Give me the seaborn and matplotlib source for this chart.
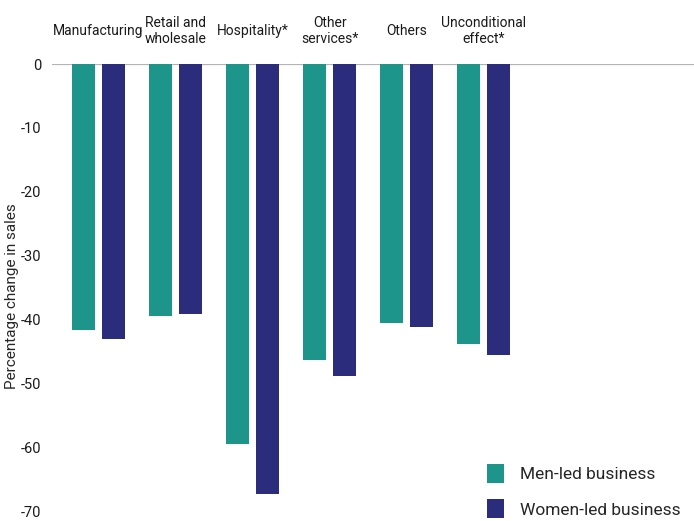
import pandas as pd
import seaborn as sns
import matplotlib.pyplot as plt


categories = ["Manufacturing", "Retail and\nwholesale", "Hospitality*",
              "Other\nservices*", "Others", "Unconditional\neffect*"]
men = [-41.6, -39.4, -59.5, -46.4, -40.5, -43.8]
women = [-43.0, -39.1, -67.3, -48.9, -41.1, -45.6]
groups = ["Men-led business", "Women-led business"]

df = pd.DataFrame({
    "sector": categories * 2,
    "change": men + women,
    "group": [groups[0]] * len(men) + [groups[1]] * len(women),
})

sns.set_style("white")
plt.rcParams["font.family"] = ["Roboto", "DejaVu Sans"]
plt.rcParams["axes.unicode_minus"] = False

fig = plt.figure(figsize=(6.94, 5.21), dpi=100)
ax = fig.add_axes([0.075, 0.019, 0.925, 0.858])

sns.barplot(data=df, x="sector", y="change", hue="group",
            palette=["#1d958a", "#2c2c7c"], width=0.78, gap=0.23,
            saturation=1, linewidth=0, ax=ax)

ax.axhline(0, color="#b4b4b4", lw=1.6, zorder=0)
ax.set_ylim(-70, 0)
ax.set_xlim(-0.604, 7.73)
ax.set_yticks(range(-70, 1, 10))
ax.tick_params(axis="y", length=0, pad=8, labelsize=10.5, labelcolor="#1a1a1a")

ax.xaxis.tick_top()
ax.tick_params(axis="x", length=0, pad=24, labelsize=10, labelcolor="#1a1a1a")
for lab in ax.get_xticklabels():
    lab.set_va("center")
    lab.set_multialignment("center")

ax.set_xlabel("")
ax.set_ylabel("Percentage change in sales", fontsize=11)
ax.yaxis.set_label_coords(-0.052, 0.481)
sns.despine(ax=ax, left=True, bottom=True, top=True, right=True)

leg = ax.legend(loc="lower right", bbox_to_anchor=(1.003, -0.051), frameon=False,
                prop={"size": 12.5}, handlelength=1.0, handleheight=1.3,
                labelspacing=0.95, handletextpad=0.9)

fig.savefig("out.png", dpi=100)
